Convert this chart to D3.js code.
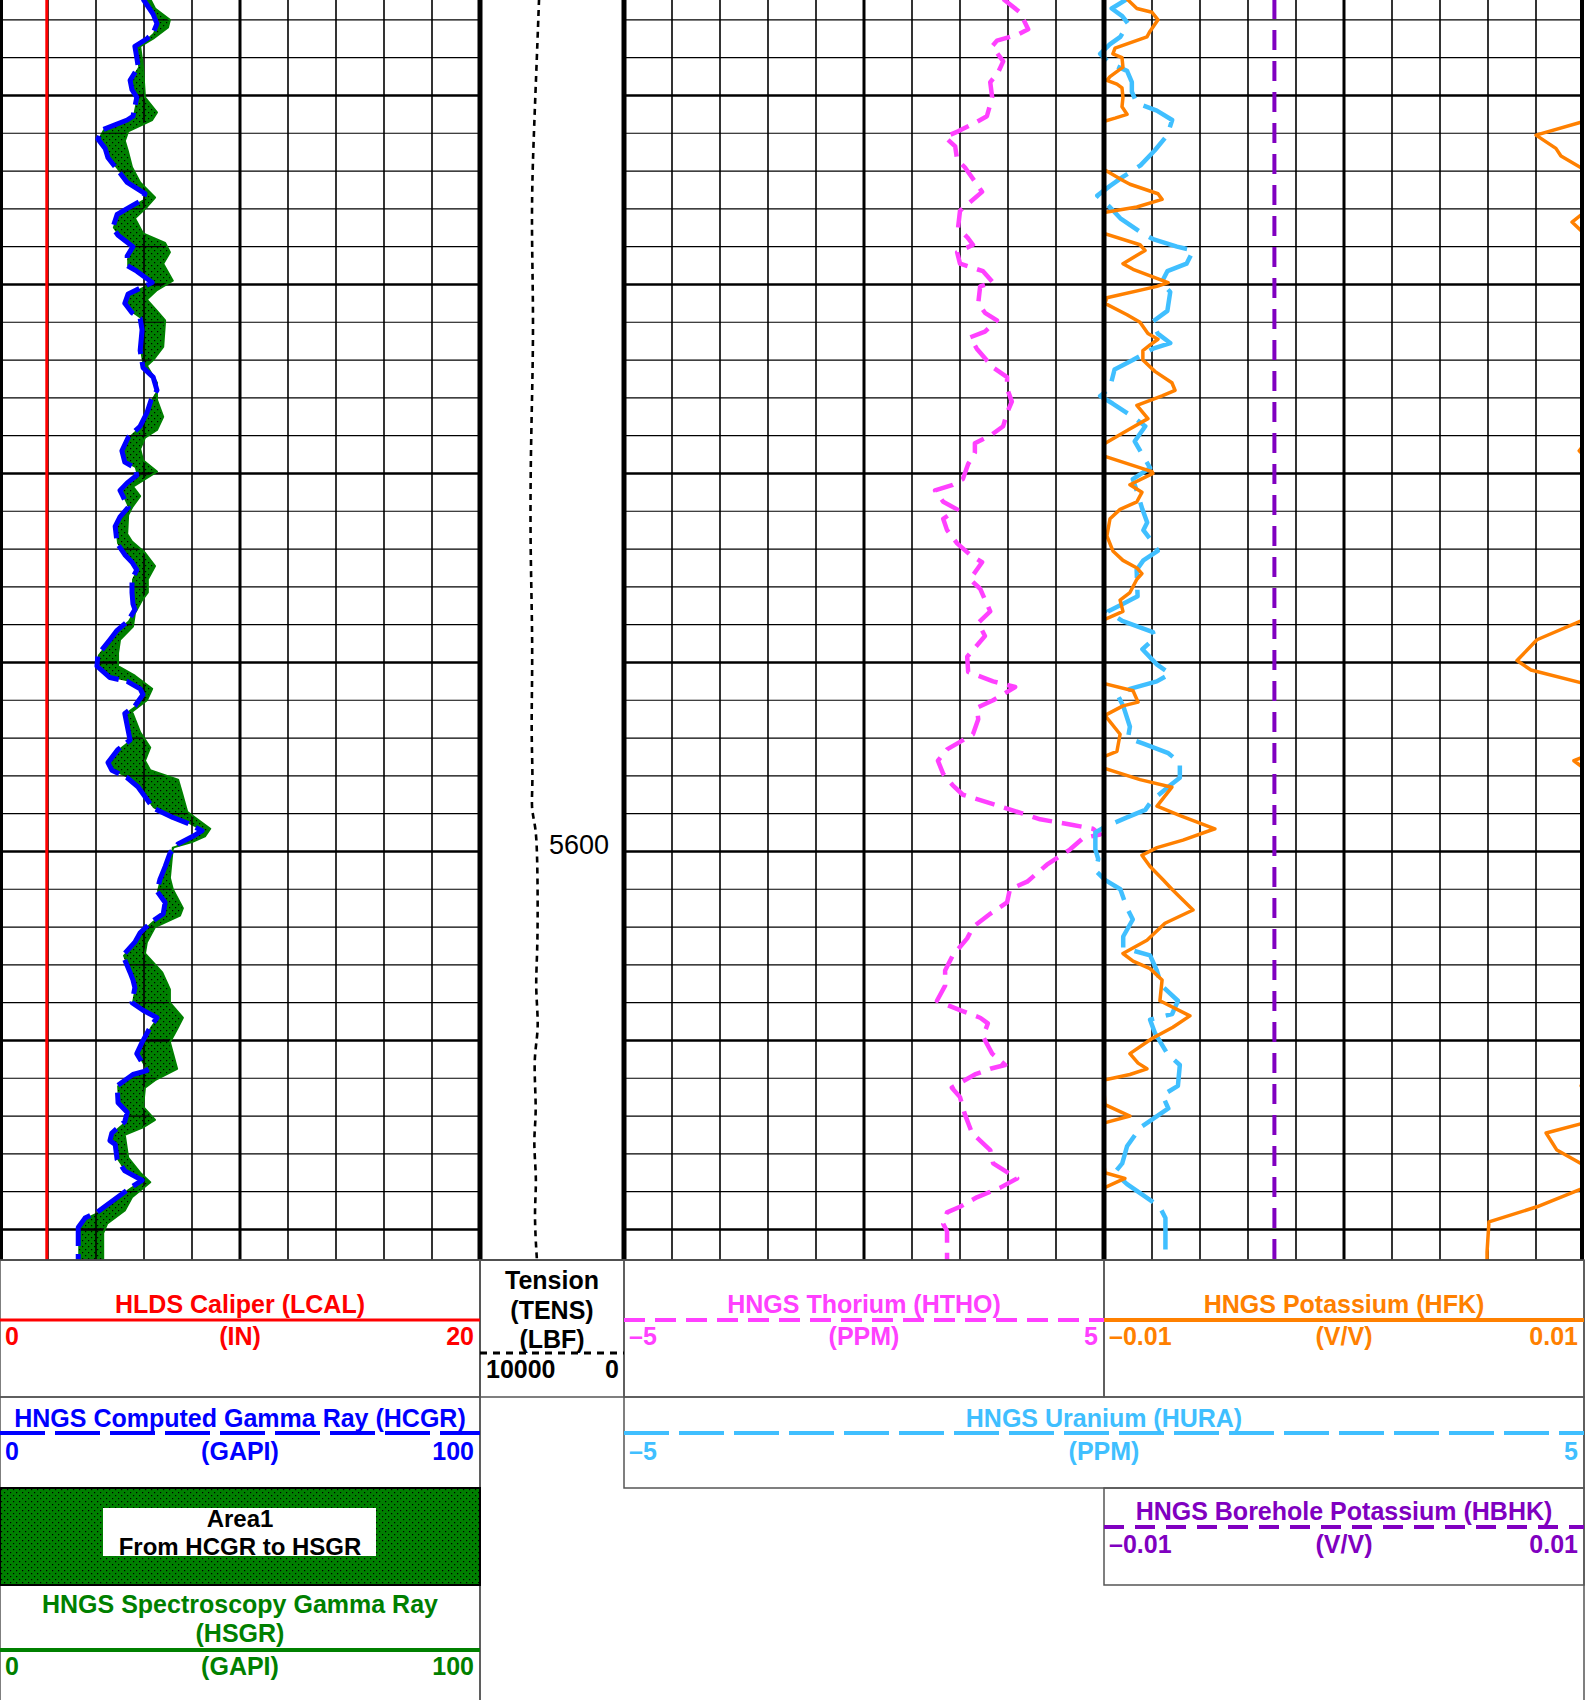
<!DOCTYPE html>
<html>
<head>
<meta charset="utf-8">
<script src="https://cdn.jsdelivr.net/npm/d3@7"></script>
<style>
  html, body { margin: 0; padding: 0; background: #fff; }
  svg { display: block; font-family: "Liberation Sans", Arial, sans-serif; }
</style>
</head>
<body>
<svg id="log" width="1596" height="1700"></svg>
<script>
// ---- data (depth in ft) ----
const caliperDepth = [5554.9, 5621.7];
const caliperIn = [1.95, 1.95];

const hcgrDepth = [5554.9,5555.2,5555.7,5556.2,5556.7,5557.0,5557.4,5558.0,5558.5,5559.2,
  5559.7,5560.1,5560.6,5561.1,5561.3,5561.8,5562.3,5562.8,5563.3,5564.1,
  5564.6,5565.2,5565.5,5565.9,5566.3,5567.0,5567.4,5568.0,5568.5,5569.0,
  5569.3,5569.9,5570.2,5570.5,5571.0,5571.5,5571.8,5572.4,5573.5,5574.4,
  5574.9,5575.6,5576.1,5576.8,5577.5,5578.1,5578.8,5579.4,5579.7,5580.1,
  5580.5,5580.9,5581.2,5581.8,5582.3,5582.8,5583.7,5584.3,5584.7,5585.1,
  5585.6,5586.3,5586.9,5587.2,5587.8,5588.3,5588.8,5589.6,5590.2,5590.8,
  5591.0,5591.4,5591.7,5592.3,5592.7,5593.6,5594.1,5594.6,5595.3,5595.7,
  5596.1,5596.6,5597.1,5597.7,5598.2,5598.5,5598.9,5599.2,5599.6,5600.1,
  5600.8,5601.5,5602.1,5602.7,5603.3,5603.7,5604.3,5604.8,5605.5,5606.4,
  5606.8,5607.2,5608.0,5608.4,5608.8,5609.3,5610.1,5610.7,5611.6,5611.8,
  5612.4,5613.3,5613.8,5614.3,5614.9,5615.3,5615.5,5616.3,5616.9,5617.4,
  5617.8,5619.1,5619.4,5619.9,5621.7];
const hcgrGapi = [29.8,30.6,31.9,32.7,31.9,30.6,28.1,28.5,28.8,27.1,
  27.5,28.5,28.1,27.7,26.5,21.5,20.4,21.9,22.5,25.0,
  26.5,30.2,29.8,27.1,24.4,23.5,24.6,27.7,26.5,26.5,
  28.5,31.7,29.2,26.7,26.0,27.5,29.2,29.6,29.2,29.8,
  31.9,32.7,31.5,30.6,29.2,26.7,25.4,26.0,28.1,28.5,
  26.5,25.0,25.6,26.7,25.0,24.0,24.4,26.0,27.5,28.5,
  27.5,27.5,27.7,28.1,26.7,24.4,22.9,20.4,20.2,22.9,
  26.5,29.2,29.8,28.1,26.0,26.7,27.1,24.6,22.5,23.3,
  26.5,28.8,30.2,31.9,36.0,39.0,42.1,40.2,37.1,35.4,
  34.4,33.3,32.7,34.4,34.0,31.7,29.2,28.1,25.6,27.1,
  27.7,28.1,27.5,29.8,32.7,31.3,29.6,28.5,30.6,27.7,
  24.4,24.6,26.5,26.0,23.3,22.9,24.0,24.4,26.0,29.6,
  27.1,20.2,17.7,16.3,16.3];

const hsgrDepth = [5554.9,5555.4,5556.0,5556.4,5557.0,5557.4,5558.5,5560.1,5560.9,5561.3,
  5561.9,5562.4,5563.0,5563.8,5564.6,5565.4,5565.9,5566.5,5567.3,5567.8,
  5568.3,5568.9,5569.8,5570.3,5570.8,5571.4,5571.9,5573.3,5574.0,5574.3,
  5575.2,5576.1,5577.0,5577.7,5578.1,5578.7,5579.3,5579.9,5580.3,5580.7,
  5581.2,5581.8,5582.2,5583.2,5583.6,5584.2,5584.9,5585.6,5586.3,5586.7,
  5587.4,5588.1,5588.8,5589.5,5590.2,5590.7,5591.4,5592.0,5592.6,5593.7,
  5594.5,5595.2,5595.7,5596.2,5596.9,5597.9,5598.8,5599.2,5599.5,5599.8,
  5601.4,5602.0,5603.0,5603.4,5604.0,5604.8,5605.4,5606.4,5607.3,5608.0,
  5608.8,5609.4,5610.1,5611.5,5612.1,5612.5,5613.5,5614.2,5614.6,5615.0,
  5616.2,5617.0,5617.5,5618.3,5619.0,5619.7,5620.2,5621.7];
const hsgrGapi = [31.3,32.3,35.4,35.0,31.9,29.2,29.8,30.2,32.7,31.7,
  26.7,26.0,26.7,27.5,29.2,32.3,30.6,28.1,29.8,34.4,
  35.4,34.0,36.0,32.7,30.6,32.7,34.4,34.0,31.9,30.6,
  32.7,32.7,34.0,32.7,30.2,29.2,29.8,32.7,30.2,27.7,
  29.2,27.5,26.7,26.5,27.5,30.2,32.3,30.8,30.8,29.6,
  28.1,27.7,25.0,24.6,24.6,28.1,31.7,30.6,27.5,29.2,
  31.3,30.2,31.3,37.1,37.9,39.0,43.8,42.7,40.0,36.0,
  35.4,36.0,38.1,37.5,32.3,30.6,30.2,33.8,35.4,35.4,
  38.1,36.9,35.4,36.9,32.3,30.2,29.8,32.3,29.8,26.0,
  26.7,29.2,31.3,27.5,26.0,22.3,21.5,21.5];

const tensDepth = [5554.9,5557.8,5561.8,5566.4,5572.1,5577.9,5583.6,5589.3,5593.6,5596.2,5597.7,
  5598.5,5599.8,5605.1,5607.2,5609.4,5610.9,5613.8,5615.3,5617.4,5619.1,5621.7];
const tensLbf = [5900,6040,6250,6460,6250,6460,6530,6320,6460,6310,6460,
  6180,6010,5970,6180,5870,6320,6040,6320,6040,6250,6040];

const hthoDepth = [5554.9,5555.6,5556.5,5556.8,5557.1,5557.4,5558.2,5558.8,5559.3,5560.1,
  5561.1,5561.4,5561.9,5562.2,5562.7,5563.4,5563.8,5565.1,5566.1,5567.0,
  5567.5,5567.9,5568.3,5568.9,5569.3,5569.9,5570.1,5571.0,5571.5,5571.9,
  5572.5,5572.8,5573.4,5574.4,5574.9,5575.5,5576.2,5576.8,5577.5,5578.0,
  5578.4,5578.9,5579.5,5580.3,5580.6,5580.9,5581.5,5581.9,5582.4,5583.0,
  5583.7,5584.3,5584.7,5585.1,5585.6,5586.1,5587.3,5587.9,5588.6,5589.7,
  5590.5,5591.0,5591.3,5592.0,5592.4,5593.0,5593.8,5594.2,5594.6,5595.2,
  5595.9,5596.5,5597.0,5597.5,5598.0,5598.3,5598.6,5598.8,5599.1,5599.3,
  5599.9,5600.7,5601.6,5602.0,5602.7,5603.3,5604.0,5604.6,5605.5,5606.3,
  5607.1,5607.9,5608.4,5608.8,5609.1,5609.8,5610.7,5611.3,5611.5,5611.8,
  5612.5,5613.0,5613.9,5614.9,5615.8,5616.5,5617.3,5617.8,5618.3,5618.8,
  5619.1,5619.7,5620.1,5621.7];
const hthoPpm = [2.90,3.25,3.42,3.19,2.77,2.67,2.90,2.79,2.63,2.67,
  2.56,2.35,1.96,1.69,1.90,1.94,2.10,2.46,2.00,1.96,
  2.15,2.27,1.94,2.00,2.48,2.69,2.42,2.38,2.52,2.77,
  2.52,2.21,2.35,2.69,2.98,2.98,3.08,2.98,2.90,2.63,
  2.31,2.31,2.17,2.06,1.85,1.48,1.65,1.94,1.65,1.73,
  1.94,2.21,2.46,2.35,2.21,2.42,2.63,2.38,2.52,2.15,
  2.17,2.69,3.15,2.69,2.35,2.38,2.27,2.00,1.73,1.54,
  1.65,1.85,2.06,2.69,3.31,3.67,4.35,4.77,4.92,4.56,
  4.29,3.81,3.40,3.04,2.98,2.63,2.27,2.15,1.85,1.69,
  1.69,1.52,2.00,2.42,2.58,2.48,2.67,2.94,2.63,2.31,
  1.83,2.00,2.10,2.25,2.63,2.69,3.19,2.83,2.35,2.00,
  1.73,1.65,1.73,1.73];

const huraDepth = [5554.9,5555.4,5555.8,5556.2,5556.9,5557.3,5557.8,5558.3,5558.7,5559.3,
  5559.8,5560.4,5560.8,5561.3,5562.1,5562.9,5563.7,5564.3,5564.8,5565.3,
  5565.9,5566.5,5567.3,5567.6,5568.0,5568.2,5568.9,5569.3,5569.9,5570.4,
  5571.4,5572.0,5572.6,5573.1,5573.4,5574.0,5574.5,5575.5,5575.9,5576.3,
  5577.0,5577.5,5578.3,5579.1,5579.7,5580.3,5580.9,5581.9,5582.6,5583.0,
  5583.6,5584.1,5584.6,5585.1,5586.5,5586.9,5587.3,5587.8,5588.4,5588.7,
  5589.3,5590.1,5590.6,5591.0,5591.4,5591.8,5592.3,5593.4,5594.0,5594.3,
  5594.8,5595.3,5596.1,5596.5,5597.3,5597.8,5598.2,5598.7,5599.0,5599.9,
  5600.4,5601.0,5601.5,5602.0,5603.0,5603.6,5604.5,5605.1,5605.5,5606.3,
  5607.1,5607.9,5608.6,5608.9,5609.6,5610.7,5611.3,5612.4,5612.9,5613.6,
  5614.6,5615.6,5616.5,5617.0,5617.6,5618.2,5618.8,5619.4,5621.7];
const huraPpm = [0.24,0.08,0.19,0.25,0.17,0.06,-0.04,0.06,0.24,0.29,
  0.29,0.34,0.55,0.71,0.66,0.53,0.38,0.20,0.06,-0.07,
  0.06,0.17,0.40,0.51,0.76,0.93,0.86,0.66,0.60,0.69,
  0.66,0.50,0.56,0.69,0.51,0.30,0.11,0.06,-0.04,0.09,
  0.30,0.43,0.32,0.41,0.48,0.30,0.34,0.40,0.45,0.41,
  0.50,0.56,0.41,0.34,0.35,0.20,0.04,0.19,0.51,0.53,
  0.40,0.55,0.69,0.55,0.27,0.15,0.20,0.27,0.25,0.41,
  0.67,0.79,0.79,0.69,0.50,0.43,0.24,0.01,-0.09,-0.09,
  -0.06,-0.09,0.01,0.17,0.24,0.30,0.20,0.20,0.48,0.55,
  0.60,0.77,0.71,0.48,0.53,0.66,0.79,0.77,0.61,0.67,
  0.38,0.24,0.19,0.11,0.24,0.41,0.58,0.64,0.64];

const hfkDepth = [5554.9,5555.4,5555.6,5556.0,5556.6,5556.9,5557.5,5557.8,5558.0,5558.5,
  5559.0,5559.2,5559.4,5559.6,5560.1,5560.6,5561.0,5561.2,5562.1,5562.8,
  5563.2,5564.5,5564.7,5565.2,5565.5,5565.9,5566.2,5566.7,5567.3,5567.9,
  5568.2,5568.9,5569.2,5569.9,5570.1,5570.7,5571.0,5571.6,5572.0,5572.6,
  5572.9,5573.2,5573.5,5574.0,5574.6,5575.2,5575.6,5575.9,5576.4,5577.1,
  5577.7,5578.4,5578.8,5579.1,5579.9,5580.0,5580.6,5581.0,5581.5,5581.9,
  5582.4,5583.3,5584.1,5584.6,5585.0,5585.3,5585.6,5586.3,5586.7,5587.3,
  5587.6,5588.8,5589.9,5590.4,5591.5,5592.1,5592.3,5592.8,5593.8,5594.7,
  5595.2,5595.6,5596.2,5596.6,5597.6,5598.1,5598.8,5599.4,5599.8,5600.2,
  5600.8,5601.5,5602.0,5603.1,5603.8,5604.7,5605.4,5605.8,5606.2,5606.8,
  5607.9,5608.7,5609.3,5609.9,5610.7,5611.2,5611.5,5611.8,5612.1,5612.4,
  5612.7,5613.4,5614.0,5614.9,5615.8,5616.6,5617.0,5617.3,5617.8,5618.8,
  5619.6,5621.2,5621.7];
const hfkVv = [-0.00904,-0.00863,-0.0080,-0.00775,-0.00808,-0.00821,-0.00954,-0.00963,-0.00925,-0.00921,
  -0.00975,-0.00988,-0.00946,-0.00925,-0.00921,-0.00925,-0.00904,-0.00954,-0.0120,-0.01117,
  -0.01096,-0.00921,-0.00892,-0.00775,-0.00758,-0.00863,-0.0100,-0.0105,-0.0100,-0.0085,
  -0.00829,-0.00921,-0.00879,-0.00733,-0.00779,-0.00988,-0.00996,-0.00904,-0.0085,-0.00817,
  -0.00775,-0.00808,-0.00838,-0.00838,-0.00788,-0.00717,-0.00704,-0.00758,-0.00863,-0.00817,
  -0.0090,-0.00995,-0.0102,-0.00996,-0.0080,-0.00796,-0.00892,-0.00842,-0.00863,-0.00933,
  -0.00975,-0.00988,-0.00963,-0.00921,-0.00863,-0.00842,-0.00863,-0.00892,-0.00933,-0.00921,
  -0.00975,-0.01196,-0.01279,-0.01221,-0.00879,-0.00858,-0.00921,-0.00996,-0.00933,-0.00946,
  -0.01042,-0.0100,-0.0085,-0.00717,-0.00779,-0.00683,-0.00538,-0.00671,-0.00779,-0.00842,
  -0.00808,-0.00754,-0.00717,-0.00629,-0.00746,-0.00821,-0.00921,-0.00879,-0.00808,-0.00758,
  -0.00767,-0.00642,-0.00713,-0.0080,-0.00892,-0.00858,-0.00821,-0.00892,-0.0100,-0.01012,
  -0.0100,-0.00996,-0.00892,-0.01158,-0.01113,-0.0100,-0.00996,-0.00913,-0.0100,-0.01196,
  -0.01396,-0.01404,-0.01404];

const hbhkDepth = [5554.9, 5621.7];
const hbhkVv = [-0.0029, -0.0029];

// scale ranges shown in the header
const calRange = [0, 20];
const grRange = [0, 100];
const tensRange = [10000, 0];
const thRange = [-5, 5];
const urRange = [-5, 5];
const kRange = [-0.01, 0.01];

// ---- layout ----
const plotH = 1260;
const depthTop = 5554.95;
const depthBottom = depthTop + plotH / 18.9;
const T1 = [0, 480], TD = [480, 624], T2 = [624, 1104], T3 = [1104, 1584];
const font = '"Liberation Sans", Arial, sans-serif';

const col = {
  cal: '#ff0000', hcgr: '#0000ff', hsgr: '#008000', th: '#ff40ff',
  ur: '#40bfff', k: '#ff8000', bhk: '#8000c0'
};

const svg = d3.select('#log');
svg.append('rect').attr('width', 1596).attr('height', 1700).attr('fill', '#fff');

const y = d3.scaleLinear().domain([depthTop, depthBottom]).range([0, plotH]);
const xCal = d3.scaleLinear().domain(calRange).range(T1);
const xGR = d3.scaleLinear().domain(grRange).range(T1);
const xTens = d3.scaleLinear().domain(tensRange).range(TD);
const xTh = d3.scaleLinear().domain(thRange).range(T2);
const xUr = d3.scaleLinear().domain(urRange).range([T2[0], T3[1]]);
const xK = d3.scaleLinear().domain(kRange).range(T3);

const defs = svg.append('defs');
function clip(id, x0, x1) {
  defs.append('clipPath').attr('id', id)
    .append('rect').attr('x', x0).attr('y', 0).attr('width', x1 - x0).attr('height', plotH);
}
clip('c1', T1[0], T1[1]);
clip('cd', TD[0], TD[1]);
clip('c2', T2[0], T2[1]);
clip('c23', T2[0], T3[1]);
clip('c3', T3[0], T3[1]);

const pat = defs.append('pattern').attr('id', 'dots')
  .attr('width', 6).attr('height', 6).attr('patternUnits', 'userSpaceOnUse');
pat.append('rect').attr('width', 6).attr('height', 6).attr('fill', '#008000');
pat.append('rect').attr('x', 1).attr('y', 1).attr('width', 1.2).attr('height', 1.2).attr('fill', '#000');
pat.append('rect').attr('x', 4).attr('y', 4).attr('width', 1.2).attr('height', 1.2).attr('fill', '#000');

// ---- area fill between HCGR and HSGR ----
const fillPts = hcgrDepth.map((d, i) => [xGR(hcgrGapi[i]), y(d)])
  .concat(hsgrDepth.map((d, i) => [xGR(hsgrGapi[i]), y(d)]).reverse());
svg.append('path')
  .attr('d', d3.line()(fillPts) + 'Z')
  .attr('fill', 'url(#dots)')
  .attr('clip-path', 'url(#c1)');

// ---- grid ----
const grid = svg.append('g');
const hDepths = d3.range(Math.ceil(depthTop / 2) * 2, depthBottom, 2);
[T1, T2, T3].forEach(t => {
  hDepths.forEach(d => {
    const heavy = Math.round(d) % 10 === 0;
    grid.append('line')
      .attr('x1', t[0]).attr('x2', t[1])
      .attr('y1', y(d)).attr('y2', y(d))
      .attr('stroke', '#000').attr('stroke-width', heavy ? 2.4 : 1.2);
  });
  const gx = d3.scaleLinear().domain([0, 10]).range(t);
  d3.range(1, 10).forEach(i => {
    grid.append('line')
      .attr('x1', gx(i)).attr('x2', gx(i))
      .attr('y1', 0).attr('y2', plotH)
      .attr('stroke', '#000').attr('stroke-width', i === 5 ? 3 : 1.6);
  });
});

// ---- curves ----
function curve(depths, vals, xs, clipId, color, width, dash, curveType) {
  const gen = d3.line()
    .x((d, i) => xs(vals[i]))
    .y(d => y(d));
  if (curveType) gen.curve(curveType);
  const p = svg.append('path')
    .attr('d', gen(depths))
    .attr('fill', 'none')
    .attr('stroke', color)
    .attr('stroke-width', width)
    .attr('stroke-linejoin', 'round')
    .attr('clip-path', 'url(#' + clipId + ')');
  if (dash) p.attr('stroke-dasharray', dash);
  return p;
}

curve(caliperDepth, caliperIn, xCal, 'c1', col.cal, 3);
curve(hsgrDepth, hsgrGapi, xGR, 'c1', col.hsgr, 2);
curve(hcgrDepth, hcgrGapi, xGR, 'c1', col.hcgr, 5, '36,8');
curve(tensDepth, tensLbf, xTens, 'cd', '#000', 2.6, '6,5', d3.curveBasis);
curve(hthoDepth, hthoPpm, xTh, 'c2', col.th, 4.5, '20,10');
curve(huraDepth, huraPpm, xUr, 'c23', col.ur, 4.5, '40,12');
curve(hbhkDepth, hbhkVv, xK, 'c3', col.bhk, 4, '20,11');
// potassium wraps around when it runs off the left edge of the track
const span = kRange[1] - kRange[0];
curve(hfkDepth, hfkVv, xK, 'c3', col.k, 3.5);
curve(hfkDepth, hfkVv.map(v => v + span), xK, 'c3', col.k, 3.5);

// ---- track borders ----
[[1.5, 3], [T1[1], 5], [T2[0], 5], [T3[0], 5], [T3[1] - 2, 4]].forEach(([x, w]) => {
  svg.append('line').attr('x1', x).attr('x2', x).attr('y1', 0).attr('y2', plotH)
    .attr('stroke', '#000').attr('stroke-width', w);
});
svg.append('line').attr('x1', 0).attr('x2', T3[1]).attr('y1', plotH).attr('y2', plotH)
  .attr('stroke', '#000').attr('stroke-width', 1.5);

// depth labels
d3.range(Math.ceil(depthTop / 50) * 50, depthBottom, 50).forEach(d => {
  svg.append('text').attr('x', 549).attr('y', y(d) + 3)
    .attr('font-family', font).attr('font-size', 27).attr('fill', '#000')
    .text(d);
});

// ---- header ----
const hdr = svg.append('g').attr('font-family', font).attr('font-weight', 'bold').attr('font-size', 25);
const fmt = v => String(v).replace('-', '\u2013');

function box(x0, y0, x1, y1, stroke, w) {
  hdr.append('rect').attr('x', x0).attr('y', y0).attr('width', x1 - x0).attr('height', y1 - y0)
    .attr('fill', 'none').attr('stroke', stroke || '#555').attr('stroke-width', w || 1.5);
}
function txt(x, yy, s, color, anchor) {
  hdr.append('text').attr('x', x).attr('y', yy).attr('fill', color)
    .attr('text-anchor', anchor || 'middle').text(s);
}
function curveHeader(t, yTitle, yLine, yLab, title, unit, range, color, lw, dash) {
  const cx = (t[0] + t[1]) / 2;
  title.forEach((s, i) => txt(cx, yTitle - (title.length - 1 - i) * 29, s, color));
  const ln = hdr.append('line').attr('x1', t[0]).attr('x2', t[1]).attr('y1', yLine).attr('y2', yLine)
    .attr('stroke', color).attr('stroke-width', lw);
  if (dash) ln.attr('stroke-dasharray', dash);
  txt(t[0] + 5, yLab, fmt(range[0]), color, 'start');
  txt(cx, yLab, unit, color);
  txt(t[1] - 6, yLab, fmt(range[1]), color, 'end');
}

box(0, 1260, 480, 1397);
box(0, 1397, 480, 1488);
box(0, 1585, 480, 1702);
box(480, 1260, 624, 1397);
box(624, 1260, 1104, 1397);
box(624, 1397, 1584, 1488);
box(1104, 1260, 1584, 1397);
box(1104, 1488, 1584, 1585);
hdr.append('line').attr('x1', 480).attr('x2', 480).attr('y1', 1260).attr('y2', 1700)
  .attr('stroke', '#555').attr('stroke-width', 1.5);
hdr.append('line').attr('x1', 1584).attr('x2', 1584).attr('y1', 1260).attr('y2', 1700)
  .attr('stroke', '#555').attr('stroke-width', 1.5);

curveHeader(T1, 1313, 1320, 1345, ['HLDS Caliper (LCAL)'], '(IN)', calRange, col.cal, 3);
curveHeader(T1, 1427, 1433, 1460, ['HNGS Computed Gamma Ray (HCGR)'], '(GAPI)', grRange, col.hcgr, 4, '45,10');
curveHeader(T1, 1642, 1650, 1675, ['HNGS Spectroscopy Gamma Ray', '(HSGR)'], '(GAPI)', grRange, col.hsgr, 4);
curveHeader(T2, 1313, 1320, 1345, ['HNGS Thorium (HTHO)'], '(PPM)', thRange, col.th, 4, '21,10');
curveHeader([T2[0], T3[1]], 1427, 1433, 1460, ['HNGS Uranium (HURA)'], '(PPM)', urRange, col.ur, 4, '45,10');
curveHeader(T3, 1313, 1320, 1345, ['HNGS Potassium (HFK)'], '(V/V)', kRange, col.k, 4);
curveHeader(T3, 1520, 1527, 1553, ['HNGS Borehole Potassium (HBHK)'], '(V/V)', kRange, col.bhk, 4, '20,11');

// tension header
const tcx = (TD[0] + TD[1]) / 2;
txt(tcx, 1289, 'Tension', '#000');
txt(tcx, 1319, '(TENS)', '#000');
txt(tcx, 1348, '(LBF)', '#000');
hdr.append('line').attr('x1', TD[0]).attr('x2', TD[1]).attr('y1', 1353).attr('y2', 1353)
  .attr('stroke', '#000').attr('stroke-width', 3).attr('stroke-dasharray', '7,6');
txt(TD[0] + 6, 1378, fmt(tensRange[0]), '#000', 'start');
txt(TD[1] - 5, 1378, fmt(tensRange[1]), '#000', 'end');

// area fill legend
hdr.append('rect').attr('x', 0).attr('y', 1488).attr('width', 480).attr('height', 97)
  .attr('fill', 'url(#dots)').attr('stroke', '#000').attr('stroke-width', 2);
hdr.append('rect').attr('x', 103).attr('y', 1508).attr('width', 273).attr('height', 48).attr('fill', '#fff');
hdr.append('text').attr('x', 240).attr('y', 1527).attr('text-anchor', 'middle')
  .attr('font-size', 24).attr('fill', '#000').text('Area1');
hdr.append('text').attr('x', 240).attr('y', 1555).attr('text-anchor', 'middle')
  .attr('font-size', 24).attr('fill', '#000').text('From HCGR to HSGR');
</script>
</body>
</html>
